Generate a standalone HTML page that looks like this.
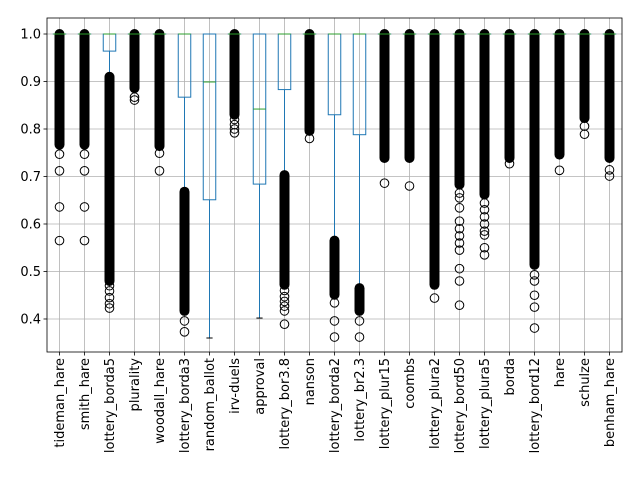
<!DOCTYPE html>
<html><head><meta charset="utf-8"><style>
html,body{margin:0;padding:0;background:#fff;}
svg{display:block;font-family:"DejaVu Sans","Liberation Sans",sans-serif;}
</style></head><body>
<svg id="chart" width="640" height="480" xmlns="http://www.w3.org/2000/svg"></svg>
<script>
const categories=["tideman_hare","smith_hare","lottery_borda5","plurality","woodall_hare","lottery_borda3","random_ballot","irv-duels","approval","lottery_bor3.8","nanson","lottery_borda2","lottery_br2.3","lottery_plur15","coombs","lottery_plura2","lottery_bord50","lottery_plura5","borda","lottery_bord12","hare","schulze","benham_hare"];
const q1s=[1,1,0.964,1,1,0.867,0.651,1,0.684,0.883,1,0.83,0.788,1,1,1,1,1,1,1,1,1,1];
const medians=[1,1,1,1,1,1,0.899,1,0.842,1,1,1,1,1,1,1,1,1,1,1,1,1,1];
const q3s=[1,1,1,1,1,1,1,1,1,1,1,1,1,1,1,1,1,1,1,1,1,1,1];
const whiskLo=[1,1,0.913,1,1,0.67,0.36,1,0.402,0.705,1,0.568,0.468,1,1,1,1,1,1,1,1,1,1];
const whiskHi=[1,1,1,1,1,1,1,1,1,1,1,1,1,1,1,1,1,1,1,1,1,1,1];
const denseTop=[1,1,0.91,1,1,0.668,null,1,null,0.703,1,0.565,0.465,1,1,1,1,1,1,1,1,1,1];
const denseLow=[0.767,0.767,0.48,0.886,0.764,0.417,null,0.83,null,0.472,0.796,0.451,0.417,0.739,0.739,0.472,0.683,0.662,0.739,0.514,0.746,0.823,0.739];
const sparse=[
[0.747,0.712,0.636,0.565],
[0.747,0.712,0.636,0.565],
[0.47,0.459,0.445,0.432,0.423],
[0.867,0.861],
[0.749,0.712],
[0.396,0.373],
[],
[0.82,0.809,0.8,0.792],
[],
[0.46,0.447,0.437,0.427,0.417,0.389],
[0.78],
[0.434,0.396,0.362],
[0.396,0.362],
[0.686],
[0.68],
[0.444],
[0.665,0.655,0.634,0.606,0.59,0.575,0.56,0.545,0.506,0.48,0.429],
[0.644,0.63,0.615,0.6,0.585,0.577,0.55,0.535],
[0.727],
[0.493,0.48,0.45,0.425,0.381],
[0.713],
[0.806,0.789],
[0.714,0.701]
];
const yTicks=[0.4,0.5,0.6,0.7,0.8,0.9,1.0];
const yTickLabels=["0.4","0.5","0.6","0.7","0.8","0.9","1.0"];

const L=47,R=622,T=18,B=352;
const yMin=0.3305,yMax=1.0337;
const ys=v=>B-(v-yMin)/(yMax-yMin)*(B-T);
const xs=i=>L+(i+0.5)*(R-L)/categories.length;
const svg=document.getElementById('chart');
const NS="http://www.w3.org/2000/svg";
function mk(tag,attrs,parent){const e=document.createElementNS(NS,tag);for(const k in attrs)e.setAttribute(k,attrs[k]);(parent||svg).appendChild(e);return e;}

const grid=mk('g',{});


categories.forEach((c,i)=>{mk('line',{x1:xs(i),x2:xs(i),y1:T,y2:B,stroke:'#b0b0b0','stroke-width':0.8},grid);});
yTicks.forEach(v=>{mk('line',{x1:L,x2:R,y1:ys(v),y2:ys(v),stroke:'#b0b0b0','stroke-width':0.8},grid);});

categories.forEach((c,i)=>{
  const g=mk('g',{});
  
  
  const x=xs(i),hw=6.25,cw=3.1;
  mk('line',{x1:x,x2:x,y1:ys(q1s[i]),y2:ys(whiskLo[i]),stroke:'#1f77b4','stroke-width':1},g);
  mk('line',{x1:x,x2:x,y1:ys(q3s[i]),y2:ys(whiskHi[i]),stroke:'#1f77b4','stroke-width':1},g);
  mk('line',{x1:x-cw,x2:x+cw,y1:ys(whiskLo[i]),y2:ys(whiskLo[i]),stroke:'#000','stroke-width':1},g);
  mk('line',{x1:x-cw,x2:x+cw,y1:ys(whiskHi[i]),y2:ys(whiskHi[i]),stroke:'#000','stroke-width':1},g);
  mk('rect',{x:x-hw,y:ys(q3s[i]),width:2*hw,height:Math.max(0.01,ys(q1s[i])-ys(q3s[i])),fill:'none',stroke:'#1f77b4','stroke-width':1},g);
  if(denseTop[i]!==null){
    const y1=ys(denseTop[i]),y2=ys(denseLow[i]);
    const d=mk('rect',{x:x-5,y:y1-5,width:10,height:y2-y1+10,rx:5,fill:'#000'},g);
    
    
  }
  sparse[i].forEach(v=>{
    const o=mk('circle',{cx:x,cy:ys(v),r:4.3,fill:'none',stroke:'#000','stroke-width':1},g);
    
    
  });
  mk('line',{x1:x-hw,x2:x+hw,y1:ys(medians[i]),y2:ys(medians[i]),stroke:'#2ca02c','stroke-width':1},g);
  mk('line',{x1:x,x2:x,y1:B,y2:B+3.5,stroke:'#000','stroke-width':0.8});
  const t=mk('text',{x:0,y:0,transform:`translate(${x+4.7},${B+6}) rotate(-90)`,'text-anchor':'end','font-size':13,fill:'#000'});
  t.textContent=c;
  
  
});

yTicks.forEach((v,k)=>{
  mk('line',{x1:L-3.5,x2:L,y1:ys(v),y2:ys(v),stroke:'#000','stroke-width':0.8});
  const t=mk('text',{x:L-6,y:ys(v)+4.7,'text-anchor':'end','font-size':13,fill:'#000'});
  t.textContent=yTickLabels[k];
  
  
});
const f=mk('rect',{x:L,y:T,width:R-L,height:B-T,fill:'none',stroke:'#000','stroke-width':0.8});


</script>
</body></html>
